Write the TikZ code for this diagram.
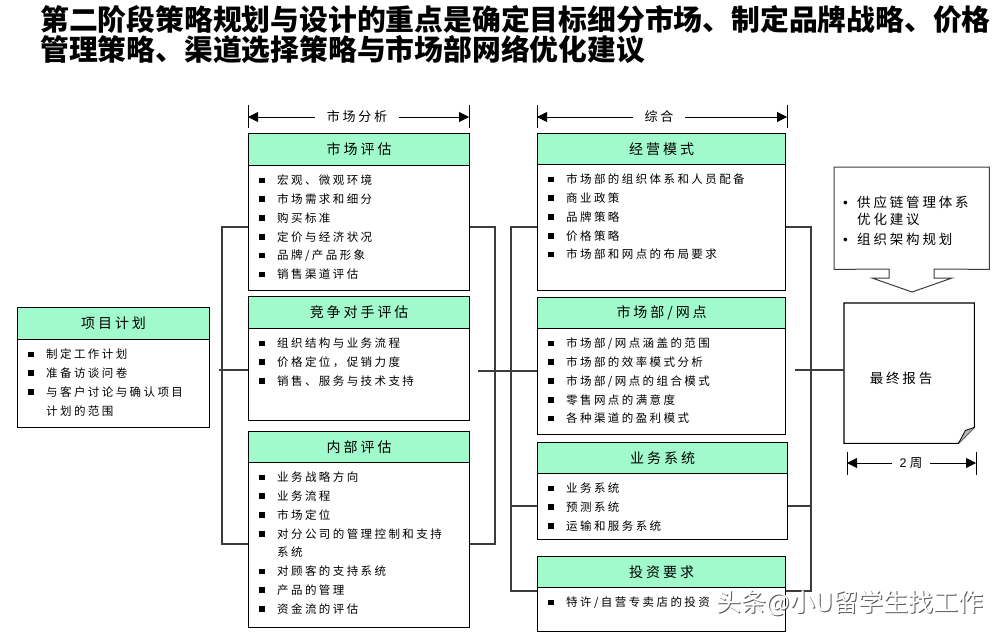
\documentclass[tikz,border=0pt]{standalone}
\usepackage{fontspec}
\setmainfont{Liberation Sans}
\newfontfamily\cjk[LetterSpace=21]{Noto Sans CJK SC}
\newfontfamily\cjkplain{Noto Sans CJK SC}
\usetikzlibrary{arrows.meta}
\definecolor{hdrgreen}{RGB}{160,250,204}
\definecolor{conngray}{RGB}{60,60,60}
\newcommand\sqbul{\makebox[18pt][l]{\rule[1.5pt]{5.5pt}{5.5pt}}}
\newcommand\drawcard[8]{%
  \node[bodyb, minimum width=#4pt, minimum height=#6pt] (#1b) at ({#2},{#3+#5}) {};
  \node[hdr, minimum width=#4pt, minimum height=#5pt] (#1) at (#2,#3) {#7};
  \node[items] (#1t) at ({#2+11},{#3+#5+9.7}) {#8};
}
\begin{document}
\begin{tikzpicture}[x=1pt,y=-1pt,
  hdr/.style={draw, line width=1.2pt, fill=hdrgreen, anchor=north west, inner sep=0pt,
              font=\cjk\fontsize{14}{16}\selectfont},
  bodyb/.style={draw, line width=1.2pt, fill=white, anchor=north west, inner sep=0pt},
  items/.style={anchor=north west, inner sep=0pt, align=left,
              font=\cjk\fontsize{11.5}{18.8}\selectfont},
  conn/.style={draw=conngray, line width=1.1pt},
  dim/.style={draw=black, line width=1pt, {Triangle[length=10pt,width=10pt]}-{Triangle[length=10pt,width=10pt]}},
  tick/.style={draw=black, line width=1pt},
  dimlbl/.style={fill=white, inner ysep=1pt, font=\cjk\fontsize{13}{15}\selectfont},
  titlefont/.style={anchor=west, inner sep=0pt, font=\cjkplain\bfseries\fontsize{28.8}{31}\selectfont}
]
\fill[white] (0,0) rectangle (1008,635);
\useasboundingbox (0,0) rectangle (1008,635);

% title
\node[titlefont] (title1) at (40,19)
  {第二阶段策略规划与设计的重点是确定目标细分市场、制定品牌战略、价格};
\node[titlefont] (title2) at (40,50)
  {管理策略、渠道选择策略与市场部网络优化建议};

% connector frames (behind boxes)
\coordinate (lbTL) at (222,227);
\coordinate (lbBR) at (495,544);
\draw[conn] (lbTL) rectangle (lbBR);
\coordinate (rbT) at (511,227);
\coordinate (rbB) at (511,591);
\coordinate (rbM) at (511,506);
\draw[conn] (537,227) -- (rbT) -- (rbB) -- (537,591);
\draw[conn] (rbM) -- (537,506);
\coordinate (rrT) at (811,227);
\coordinate (rrB) at (811,591);
\coordinate (rrM) at (811,506);
\draw[conn] (785,227) -- (rrT) -- (rrB) -- (785,591);
\draw[conn] (787,506) -- (rrM);

% left box
\drawcard{plan}{17}{307}{192}{32}{88}{项目计划}{%
\sqbul 制定工作计划\\
\sqbul 准备访谈问卷\\
\sqbul 与客户讨论与确认项目\\
\hspace*{18pt}计划的范围}

% middle column
\drawcard{mkt}{248}{133}{221}{32}{125}{市场评估}{%
\sqbul 宏观、微观环境\\
\sqbul 市场需求和细分\\
\sqbul 购买标准\\
\sqbul 定价与经济状况\\
\sqbul 品牌/产品形象\\
\sqbul 销售渠道评估}
\drawcard{cmp}{248}{296}{221}{32}{92}{竞争对手评估}{%
\sqbul 组织结构与业务流程\\
\sqbul 价格定位，促销力度\\
\sqbul 销售、服务与技术支持}
\drawcard{int}{248}{431}{221}{31}{165}{内部评估}{%
\sqbul 业务战略方向\\
\sqbul 业务流程\\
\sqbul 市场定位\\
\sqbul 对分公司的管理控制和支持\\
\hspace*{18pt}系统\\
\sqbul 对顾客的支持系统\\
\sqbul 产品的管理\\
\sqbul 资金流的评估}

% right column
\drawcard{ops}{537}{133}{248}{31}{126}{经营模式}{%
\sqbul 市场部的组织体系和人员配备\\
\sqbul 商业政策\\
\sqbul 品牌策略\\
\sqbul 价格策略\\
\sqbul 市场部和网点的布局要求}
\drawcard{net}{537}{297}{248}{31}{106}{市场部/网点}{%
\sqbul 市场部/网点涵盖的范围\\
\sqbul 市场部的效率模式分析\\
\sqbul 市场部/网点的组合模式\\
\sqbul 零售网点的满意度\\
\sqbul 各种渠道的盈利模式}
\drawcard{sys}{537}{442}{250}{31}{66}{业务系统}{%
\sqbul 业务系统\\
\sqbul 预测系统\\
\sqbul 运输和服务系统}
\drawcard{inv}{537}{556}{248}{31}{44}{投资要求}{%
\sqbul 特许/自营专卖店的投资}

% horizontal connectors at mid height
\coordinate (j1) at (219,370);
\draw[conn] (j1) -- (j1 -| cmpb.west);
\coordinate (j2) at (478,371);
\draw[conn] (j2) -- (j2 -| netb.west);

% report
\node[anchor=north west, minimum width=130pt, minimum height=140pt, inner sep=0pt] (report) at (844,303) {};
\draw[line width=1.1pt, fill=white] (report.north west) -- (report.north east) -- ([yshift=16pt]report.south east)
  -- ([xshift=-16pt]report.south east) -- (report.south west) -- cycle;
\fill[gray!60] ([yshift=16pt]report.south east) -- ([xshift=-16pt]report.south east) -- ([xshift=-9pt,yshift=13pt]report.south east) -- cycle;
\draw[line width=0.8pt] ([yshift=16pt]report.south east) -- ([xshift=-9pt,yshift=13pt]report.south east) -- ([xshift=-16pt]report.south east);
\node[font=\cjk\fontsize{13.5}{16}\selectfont, inner sep=0pt] (reportt) at (901,378) {最终报告};
\coordinate (j3) at (795,370);
\draw[conn] (j3) -- (j3 -| report.west);

% supply chain callout
\node[anchor=north west, minimum width=155pt, minimum height=102pt, inner sep=0pt] (supply) at (834,167) {};
\draw[line width=1pt, draw=conngray, fill=white] (supply.north west) -- (supply.north east) -- (supply.south east)
  -- (934,269) -- (934,278) -- (952,278) -- (912,292) -- (872,278) -- (889,278) -- (889,269)
  -- (supply.south west) -- cycle;
\node[anchor=north west, inner sep=0pt, align=left, font=\cjk\fontsize{13.5}{16.7}\selectfont] (supplyt) at (843,195.8)
  {\makebox[14pt][l]{\normalfont\textbullet}供应链管理体系\\
   \hspace*{14pt}优化建议\\[4pt]
   \makebox[14pt][l]{\normalfont\textbullet}组织架构规划};

% dimension arrows
\coordinate (d1L) at (248,117); \coordinate (d1R) at (469,117);
\draw[tick] (248,105) -- (248,128); \draw[tick] (469,105) -- (469,128);
\draw[dim] (d1L) -- (d1R);
\node[dimlbl, inner xsep=12pt] (d1t) at (357,117) {市场分析};

\coordinate (d2L) at (537,117); \coordinate (d2R) at (787,117);
\draw[tick] (537,105) -- (537,128); \draw[tick] (787,105) -- (787,128);
\draw[dim] (d2L) -- (d2R);
\node[dimlbl, inner xsep=12pt] (d2t) at (659,117) {综合};

\coordinate (d3L) at (847,463); \coordinate (d3R) at (976,463);
\draw[tick] (847,452) -- (847,475); \draw[tick] (976,452) -- (976,475);
\draw[dim] (d3L) -- (d3R);
\node[dimlbl, inner xsep=8pt, font=\fontsize{12.5}{14}\selectfont] (d3t) at (911,463) {2 {\cjkplain 周}};

% watermark
\node[text=black!65, font=\cjkplain\fontsize{25}{27}\selectfont, inner sep=0pt] (wms) at (851.2,604.2) {头条@小U留学生找工作};
\node[text=white, font=\cjkplain\fontsize{25}{27}\selectfont, inner sep=0pt] (wm) at (850,603) {头条@小U留学生找工作};
\end{tikzpicture}
\end{document}
